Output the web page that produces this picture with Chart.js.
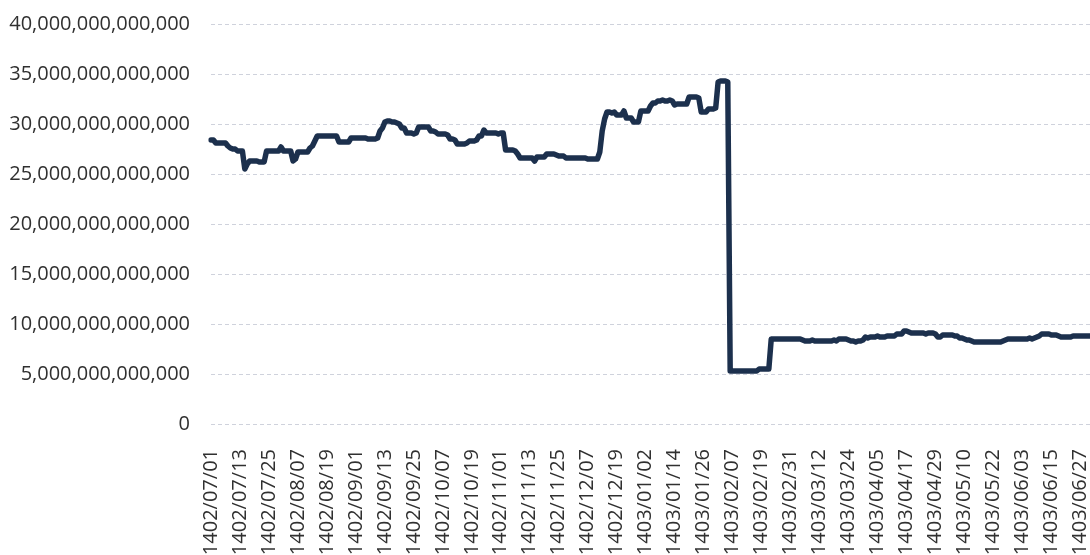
<!DOCTYPE html>
<html>
<head>
<meta charset="utf-8">
<script src="https://cdn.jsdelivr.net/npm/chart.js@4/dist/chart.umd.min.js"></script>
<style>
  html, body { margin: 0; padding: 0; background: #fff; overflow: hidden; }
  #wrap { width: 1090px; height: 555px; }
</style>
</head>
<body>
<div id="wrap"><canvas id="chart"></canvas></div>
<script>
// values are in trillions, one per calendar day (Persian calendar)
const UNIT = 1e12;

const months = [
  '1402/07', '1402/08', '1402/09', '1402/10', '1402/11', '1402/12',
  '1403/01', '1403/02', '1403/03', '1403/04', '1403/05', '1403/06',
];

const m1402_07 = [28.4, 28.4, 28.1, 28.1, 28.1, 28.1, 28.1, 27.8, 27.6, 27.5, 27.5, 27.3, 27.3, 27.3, 25.5,
  26.0, 26.3, 26.3, 26.3, 26.3, 26.2, 26.2, 26.2, 27.3, 27.3, 27.3, 27.3, 27.3, 27.3, 27.7];
const m1402_08 = [27.3, 27.3, 27.3, 27.3, 26.3, 26.5, 27.2, 27.2, 27.2, 27.2, 27.2, 27.6, 27.8, 28.3, 28.8,
  28.8, 28.8, 28.8, 28.8, 28.8, 28.8, 28.8, 28.8, 28.2, 28.2, 28.2, 28.2, 28.2, 28.6, 28.6];
const m1402_09 = [28.6, 28.6, 28.6, 28.6, 28.6, 28.5, 28.5, 28.5, 28.5, 28.6, 29.3, 29.6, 30.2, 30.3, 30.3,
  30.2, 30.2, 30.1, 30.0, 29.6, 29.6, 29.1, 29.1, 29.1, 29.0, 29.1, 29.7, 29.7, 29.7, 29.7];
const m1402_10 = [29.7, 29.3, 29.3, 29.2, 29.0, 29.0, 29.0, 29.0, 28.9, 28.5, 28.5, 28.4, 28.0, 28.0, 28.0,
  28.0, 28.1, 28.3, 28.3, 28.3, 28.4, 28.8, 28.8, 29.4, 29.1, 29.1, 29.1, 29.1, 29.1, 29.0];
const m1402_11 = [29.1, 29.1, 27.4, 27.4, 27.4, 27.4, 27.3, 27.0, 26.6, 26.6, 26.6, 26.6, 26.6, 26.6, 26.3,
  26.7, 26.7, 26.7, 26.7, 27.0, 27.0, 27.0, 27.0, 26.9, 26.8, 26.8, 26.8, 26.6, 26.6, 26.6];
const m1402_12 = [26.6, 26.6, 26.6, 26.6, 26.6, 26.6, 26.5, 26.5, 26.5, 26.5, 26.5, 27.2, 29.3, 30.5, 31.2,
  31.2, 31.1, 31.2, 30.9, 30.9, 30.9, 31.3, 30.6, 30.6, 30.6, 30.2, 30.2, 30.2, 31.3];
const m1403_01 = [31.3, 31.3, 31.3, 31.8, 32.1, 32.1, 32.3, 32.3, 32.4, 32.3, 32.3, 32.4, 32.3, 31.9, 32.0,
  32.0, 32.0, 32.0, 32.0, 32.7, 32.7, 32.7, 32.7, 32.6, 31.2, 31.2, 31.2, 31.5, 31.5, 31.5, 31.6];
const m1403_02 = [34.2, 34.3, 34.3, 34.3, 34.2, 5.3, 5.3, 5.3, 5.3, 5.3, 5.3, 5.3, 5.3, 5.3, 5.3,
  5.3, 5.3, 5.5, 5.5, 5.5, 5.5, 5.5, 8.5, 8.5, 8.5, 8.5, 8.5, 8.5, 8.5, 8.5, 8.5];
const m1403_03 = [8.5, 8.5, 8.5, 8.5, 8.4, 8.3, 8.3, 8.3, 8.4, 8.3, 8.3, 8.3, 8.3, 8.3, 8.3,
  8.3, 8.3, 8.4, 8.3, 8.5, 8.5, 8.5, 8.5, 8.4, 8.3, 8.3, 8.2, 8.3, 8.3, 8.4, 8.7];
const m1403_04 = [8.6, 8.7, 8.7, 8.7, 8.8, 8.7, 8.7, 8.7, 8.8, 8.8, 8.8, 8.8, 9.0, 9.0, 9.0,
  9.3, 9.3, 9.2, 9.1, 9.1, 9.1, 9.1, 9.1, 9.1, 9.0, 9.1, 9.1, 9.1, 9.0, 8.7, 8.7];
const m1403_05 = [8.9, 8.9, 8.9, 8.9, 8.9, 8.8, 8.8, 8.6, 8.6, 8.5, 8.4, 8.4, 8.3, 8.2, 8.2,
  8.2, 8.2, 8.2, 8.2, 8.2, 8.2, 8.2, 8.2, 8.2, 8.2, 8.3, 8.4, 8.5, 8.5, 8.5, 8.5];
const m1403_06 = [8.5, 8.5, 8.5, 8.5, 8.5, 8.6, 8.5, 8.6, 8.7, 8.8, 9.0, 9.0, 9.0, 9.0, 8.9,
  8.9, 8.9, 8.8, 8.7, 8.7, 8.7, 8.7, 8.7, 8.8, 8.8, 8.8, 8.8, 8.8, 8.8, 8.8, 8.8];

const monthValues = [m1402_07, m1402_08, m1402_09, m1402_10, m1402_11, m1402_12,
  m1403_01, m1403_02, m1403_03, m1403_04, m1403_05, m1403_06];

const labels = [];
const values = [];
monthValues.forEach((list, m) => {
  list.forEach((v, d) => {
    labels.push(months[m] + '/' + String(d + 1).padStart(2, '0'));
    values.push(v);
  });
});

const TICK_EVERY = 12;
const textColor = '#303030';
const font = { family: "'Open Sans', 'Noto Sans', sans-serif", size: 20 };

new Chart(document.getElementById('chart'), {
  type: 'line',
  data: {
    labels: labels,
    datasets: [{
      data: values,
      borderColor: '#1c304d',
      borderWidth: 5.5,
      pointRadius: 0,
      tension: 0,
      borderJoinStyle: 'round',
      borderCapStyle: 'round',
    }],
  },
  options: {
    responsive: true,
    maintainAspectRatio: false,
    animation: false,
    layout: { padding: { left: 8, top: 24, right: 0, bottom: 0 } },
    plugins: { legend: { display: false }, tooltip: { enabled: false } },
    scales: {
      x: {
        grid: { display: false },
        border: { display: false },
        ticks: {
          autoSkip: false,
          maxRotation: 90,
          minRotation: 90,
          padding: 17,
          color: textColor,
          font: font,
          callback: (v, i) => (i % TICK_EVERY === 0 ? labels[i] : ''),
        },
        afterFit: (s) => { s.height = 131; s.paddingLeft = 0; s.paddingRight = 0; },
      },
      y: {
        min: 0,
        max: 40,
        grid: { color: '#cfd2dc', lineWidth: 1, drawTicks: false },
        border: { display: false, dash: [4, 3] },
        ticks: {
          stepSize: 5,
          padding: 21,
          color: textColor,
          font: font,
          callback: (v) => (v * UNIT).toLocaleString('en-US'),
        },
        afterFit: (s) => { s.width = 203; s.paddingTop = 0; s.paddingBottom = 0; },
      },
    },
  },
});
</script>
</body>
</html>
